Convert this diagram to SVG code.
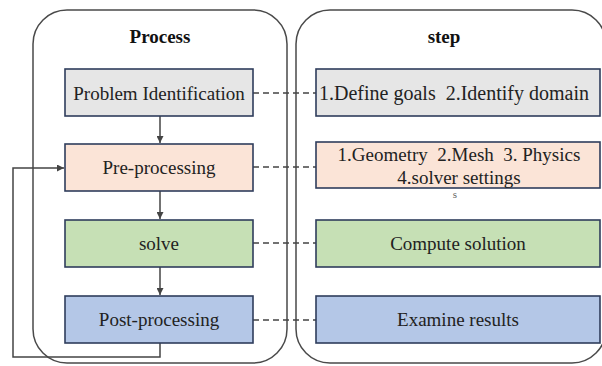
<svg xmlns="http://www.w3.org/2000/svg" width="602" height="366" viewBox="0 0 602 366">
<style>
.cont{fill:none;stroke:#4a4a4a;stroke-width:1.5}
.box{stroke:#2f3d5c;stroke-width:1.6}
.t{font-family:"Liberation Serif","Times New Roman",serif;font-size:19px;fill:#222;text-anchor:middle}
.h{font-family:"Liberation Serif","Times New Roman",serif;font-size:19px;font-weight:bold;fill:#111;text-anchor:middle}
.ln{fill:none;stroke:#444;stroke-width:1.5}
.dash{fill:none;stroke:#444;stroke-width:1.5;stroke-dasharray:6,4}
</style>
<defs>
<marker id="ah" viewBox="0 0 10 10" refX="10" refY="5" markerWidth="7" markerHeight="7" orient="auto" markerUnits="userSpaceOnUse">
<path d="M0,0 L10,5 L0,10 z" fill="#444"/>
</marker>
</defs>
<g id="process-container">
<rect class="cont" x="33" y="10" width="254" height="353" rx="34"/>
<text class="h" x="160" y="43">Process</text>
</g>
<g id="step-container">
<rect class="cont" x="296" y="10" width="310" height="353" rx="34"/>
<text class="h" x="444" y="43">step</text>
</g>
<g id="connectors">
<line class="ln" x1="160" y1="116" x2="160" y2="143" marker-end="url(#ah)"/>
<line class="ln" x1="160" y1="191" x2="160" y2="219" marker-end="url(#ah)"/>
<line class="ln" x1="160" y1="267" x2="160" y2="295" marker-end="url(#ah)"/>
<polyline class="ln" points="160,343 160,357 13,357 13,168 64,168" marker-end="url(#ah)"/>
<line class="dash" x1="253" y1="93" x2="316" y2="93"/>
<line class="dash" x1="253" y1="167" x2="316" y2="167"/>
<line class="dash" x1="253" y1="243" x2="316" y2="243"/>
<line class="dash" x1="253" y1="320" x2="316" y2="320"/>
</g>
<g id="problem-identification">
<rect class="box" x="65" y="69" width="188" height="47" fill="#e6e6e6"/>
<text class="t" x="159" y="100">Problem Identification</text>
</g>
<g id="pre-processing">
<rect class="box" x="65" y="144" width="188" height="47" fill="#fbe4d7"/>
<text class="t" x="159" y="174">Pre-processing</text>
</g>
<g id="solve">
<rect class="box" x="65" y="220" width="188" height="47" fill="#c6e0b5"/>
<text class="t" x="159" y="250">solve</text>
</g>
<g id="post-processing">
<rect class="box" x="65" y="296" width="188" height="47" fill="#b4c7e7"/>
<text class="t" x="159" y="326">Post-processing</text>
</g>
<g id="define-goals">
<rect class="box" x="316" y="69" width="284" height="47" fill="#e6e6e6"/>
<text class="t" x="454" y="100" style="font-size:20px" xml:space="preserve">1.Define goals  2.Identify domain</text>
</g>
<g id="geometry">
<rect class="box" x="316" y="142" width="284" height="46" fill="#fbe4d7"/>
<text class="t" x="459" y="161" xml:space="preserve">1.Geometry  2.Mesh  3. Physics</text>
<text class="t" x="459" y="184">4.solver settings</text>
<text class="t" x="455" y="198" style="font-size:11px;fill:#666">s</text>
</g>
<g id="compute-solution">
<rect class="box" x="316" y="220" width="284" height="47" fill="#c6e0b5"/>
<text class="t" x="458" y="250">Compute solution</text>
</g>
<g id="examine-results">
<rect class="box" x="316" y="296" width="284" height="47" fill="#b4c7e7"/>
<text class="t" x="458" y="326">Examine results</text>
</g>
</svg>
